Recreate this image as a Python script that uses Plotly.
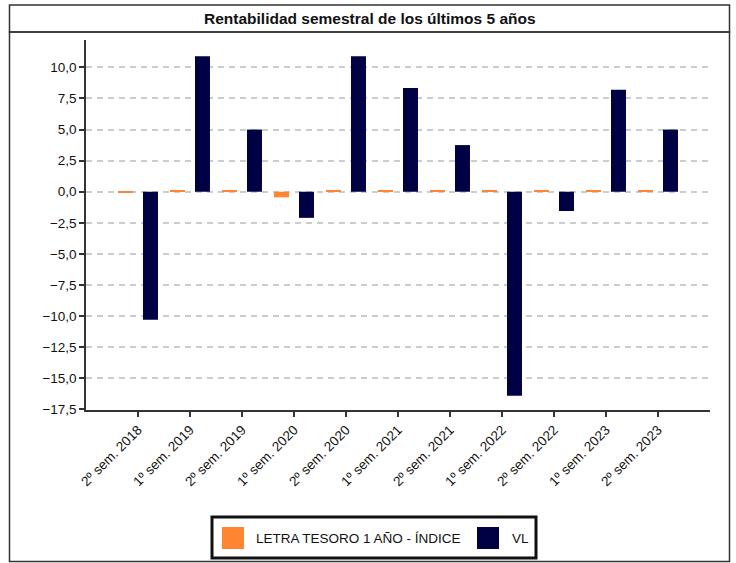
import plotly.graph_objects as go

categories = ["2º sem. 2018", "1º sem. 2019", "2º sem. 2019", "1º sem. 2020", "2º sem. 2020",
              "1º sem. 2021", "2º sem. 2021", "1º sem. 2022", "2º sem. 2022", "1º sem. 2023",
              "2º sem. 2023"]
letra_tesoro = [-0.10, 0.06, 0.06, -0.45, 0.06, 0.06, 0.06, 0.06, 0.06, 0.06, 0.06]
vl = [-10.3, 10.9, 5.0, -2.1, 10.9, 8.35, 3.75, -16.4, -1.55, 8.2, 5.0]
y_ticks = [-17.5, -15.0, -12.5, -10.0, -7.5, -5.0, -2.5, 0.0, 2.5, 5.0, 7.5, 10.0]

ORANGE = "#FF8533"
NAVY = "#000044"
FONT = "Liberation Sans, Arial, sans-serif"

W, H = 736, 563
L, R, T, B = 86, 26, 40, 153
PW, PH = W - L - R, H - T - B


def px(x):
    return (x - L) / PW


def py(y):
    return (H - B - y) / PH


fig = go.Figure()
fig.add_trace(go.Bar(x=categories, y=letra_tesoro, marker=dict(color=ORANGE, line=dict(width=0)),
                     name="LETRA TESORO 1 AÑO - ÍNDICE", showlegend=False))
fig.add_trace(go.Bar(x=categories, y=vl, marker=dict(color=NAVY, line=dict(width=0)),
                     name="VL", showlegend=False))

fig.update_layout(
    width=W, height=H,
    margin=dict(l=L, r=R, t=T, b=B, pad=0),
    paper_bgcolor="white", plot_bgcolor="white",
    barmode="group", bargap=0.04, bargroupgap=0.4,
    separators=",.",
    font=dict(family=FONT, size=13, color="#111"),
    showlegend=False,
)
fig.update_xaxes(
    type="category", range=[-1, 11], showgrid=False, zeroline=False,
    showline=True, linecolor="#333", linewidth=1.5,
    ticks="outside", ticklen=5, tickcolor="#333", tickwidth=1.5,
    tickangle=-45, tickfont=dict(size=13.5, family=FONT, color="#111"),
)
fig.update_yaxes(
    range=[-17.55, 12.2], tickvals=y_ticks, tickformat=".1f",
    showgrid=True, gridcolor="#cccccc", gridwidth=1.5, griddash="6px,5px",
    zeroline=False, showline=True, linecolor="#333", linewidth=1.5,
    ticks="outside", ticklen=5, tickcolor="#333", tickwidth=1.5,
    tickfont=dict(size=13.5, family=FONT, color="#111"),
)

# outer frame and title box
fig.add_shape(type="rect", xref="paper", yref="paper",
              x0=px(9.5), x1=px(729.5), y0=py(561.5), y1=py(32),
              line=dict(color="#333", width=1.5), layer="below")
fig.add_shape(type="rect", xref="paper", yref="paper",
              x0=px(9.5), x1=px(729.5), y0=py(32), y1=py(5),
              line=dict(color="#333", width=1.5), layer="below")
fig.add_annotation(text="<b>Rentabilidad semestral de los últimos 5 años</b>",
                   xref="paper", yref="paper", x=px(369.5), y=py(18.5),
                   showarrow=False, font=dict(size=15.5, family=FONT, color="#111"),
                   xanchor="center", yanchor="middle")

# legend
fig.add_shape(type="rect", xref="paper", yref="paper",
              x0=px(212), x1=px(536), y0=py(558), y1=py(517),
              line=dict(color="#111", width=3))
fig.add_shape(type="rect", xref="paper", yref="paper",
              x0=px(222), x1=px(244), y0=py(549), y1=py(527),
              fillcolor=ORANGE, line=dict(width=0))
fig.add_shape(type="rect", xref="paper", yref="paper",
              x0=px(477), x1=px(499), y0=py(549), y1=py(527),
              fillcolor=NAVY, line=dict(width=0))
fig.add_annotation(text="LETRA TESORO 1 AÑO - ÍNDICE", xref="paper", yref="paper",
                   x=px(254), y=py(538.5), showarrow=False, xanchor="left", yanchor="middle",
                   font=dict(size=13.5, family=FONT, color="#111"))
fig.add_annotation(text="VL", xref="paper", yref="paper",
                   x=px(510), y=py(538.5), showarrow=False, xanchor="left", yanchor="middle",
                   font=dict(size=13.5, family=FONT, color="#111"))

fig.write_html("out.html")
